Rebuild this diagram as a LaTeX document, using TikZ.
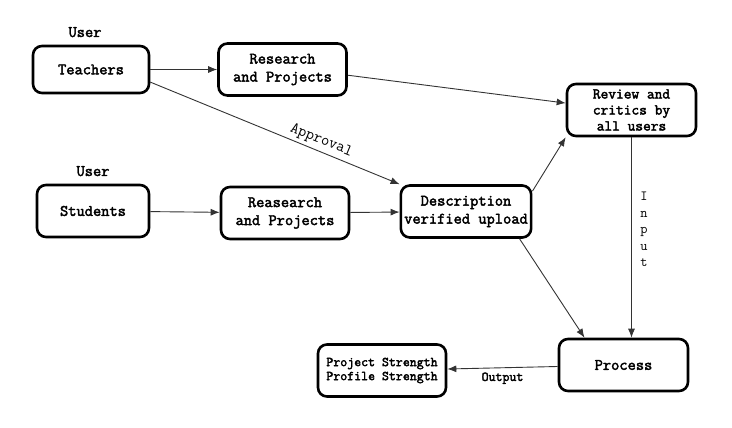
\documentclass[tikz,border=0pt]{standalone}
\usepackage{fontspec}
\newfontfamily\cfont{Latin Modern Mono}
\newfontfamily\cbfont{Latin Modern Mono}[FakeBold=2.5]
\usetikzlibrary{arrows.meta,positioning,calc}

\begin{document}
\begin{tikzpicture}[
    x=1pt, y=-1pt,
    box/.style={rectangle, draw, line width=2.6pt, rounded corners=9pt, align=center,
        minimum width=128pt, minimum height=52pt,
        font=\cbfont\fontsize{16}{18}\selectfont},
    lbl/.style={font=\cbfont\fontsize{16}{18}\selectfont},
    arr/.style={-{Latex[length=9pt,width=7pt]}, line width=0.9pt, draw=black!80}
]
    \useasboundingbox (0,0) rectangle (732,428);

    % Teachers row
    \node[box, minimum width=116pt, minimum height=47pt] (teachers) at (91,69.5) {Teachers};
    \node[lbl, above=4pt of teachers, xshift=-6pt] (user1) {User};
    \node[box] (research) at (282.5,69.5) {Research\\and Projects};

    % Students row
    \node[box, minimum width=112pt] (students) at (93,211) {Students};
    \node[lbl, above=4pt of students] (user2) {User};
    \node[box] (reas) at (285,213) {Reasearch\\and Projects};
    \node[box] (desc) at (466,211.5) {Description\\verified upload};

    % Review and process
    \node[box, minimum width=129pt,
        font=\cbfont\fontsize{15}{16}\selectfont] (review) at (631.5,110) {Review and\\critics by\\all users};
    \node[box, minimum width=129pt] (process) at (623.5,365) {Process};
    \node[box, font=\cbfont\fontsize{13.5}{14}\selectfont] (result) at (382,370.5)
        {Project Strength\\Profile Strength};

    % Connectors
    \draw[arr] (teachers) -- (research);
    \draw[arr] (research.-5) -- (review.174);
    \draw[arr] (teachers.-12) -- (desc.north west)
        node[pos=0.67, above=0pt, sloped, font=\cfont\fontsize{16}{16}\selectfont] {Approval};
    \draw[arr] (students) -- (reas);
    \draw[arr] (reas) -- (desc);
    \draw[arr] (desc.17) -- (review.south west);
    \draw[arr] (desc.-27) -- (process.145);
    \draw[arr] (review.south) -- (review.south |- process.north)
        node[pos=0.46, right=5pt, align=center, font=\cfont\fontsize{14}{16.5}\selectfont] {I\\n\\p\\u\\t};
    \draw[arr] (process) -- (result)
        node[midway, below=1pt, font=\cbfont\fontsize{13.5}{14}\selectfont] {Output};
\end{tikzpicture}
\end{document}
